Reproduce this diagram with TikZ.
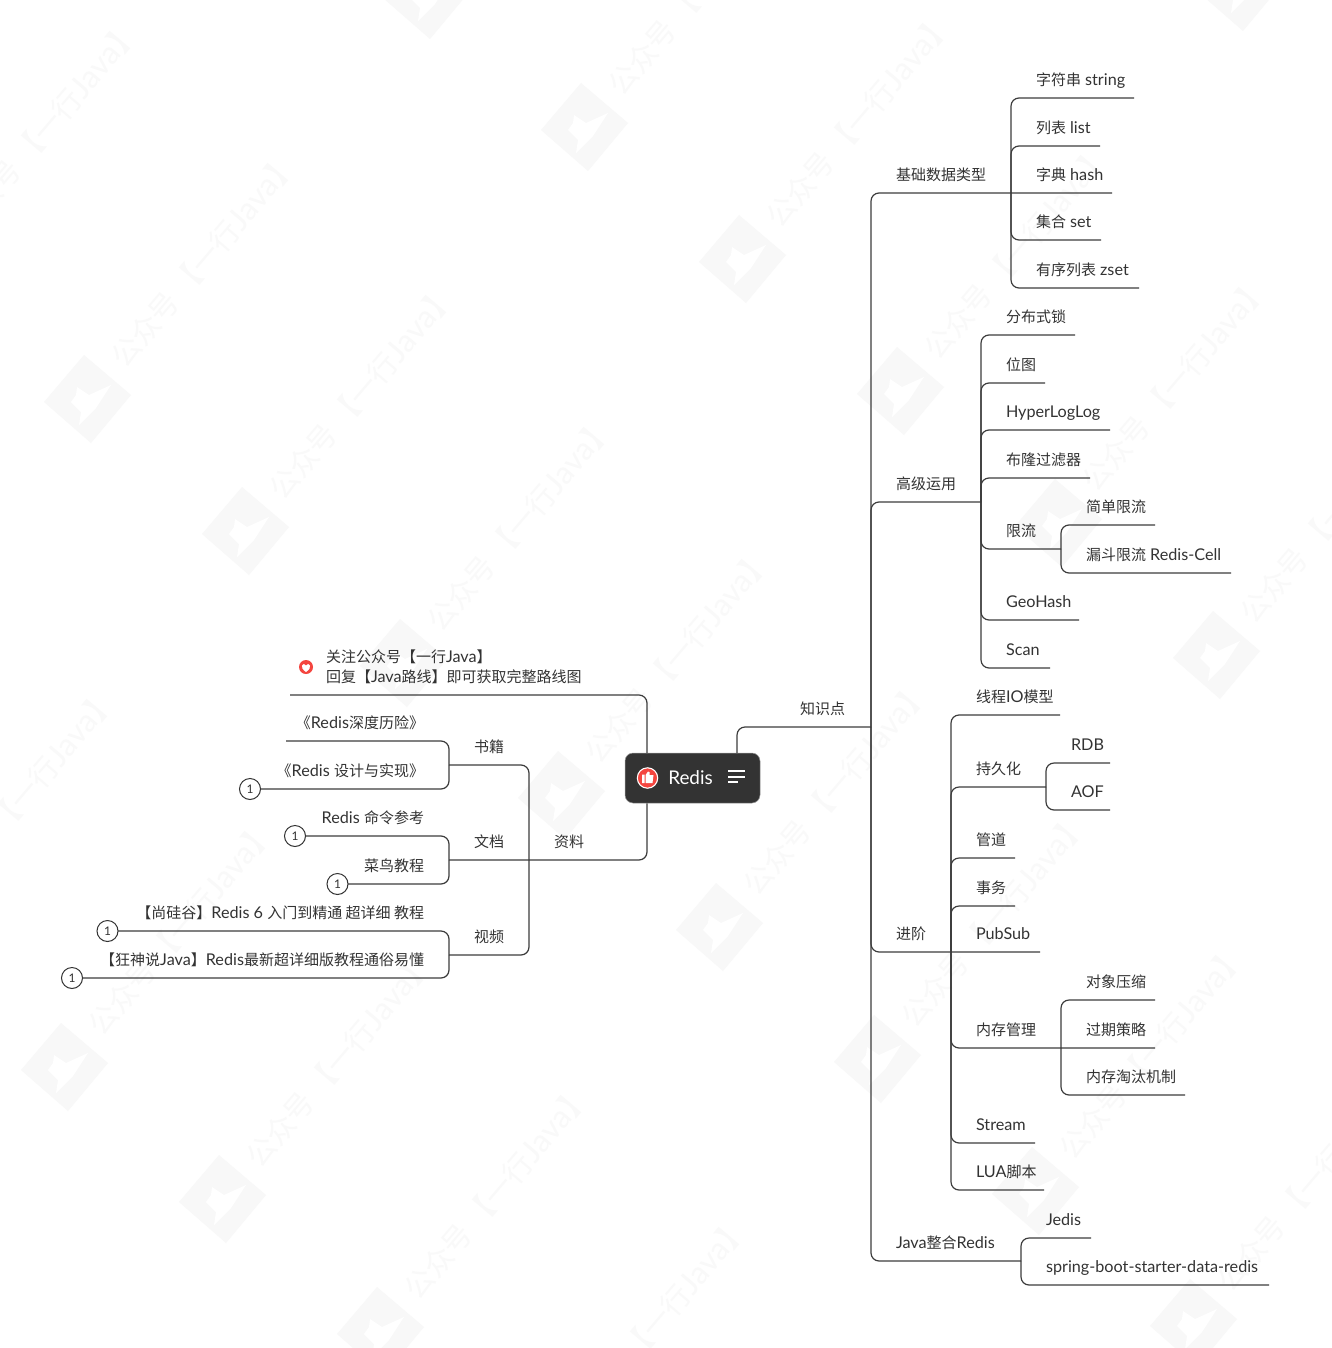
\documentclass[tikz,border=0pt]{standalone}
\usepackage{fontspec}
\setmainfont[Scale=1.08]{Lato}
\newfontfamily\cjk{Noto Sans CJK SC}
\newcommand\zh[1]{{\cjk #1}}
\definecolor{ink}{HTML}{333333}
\definecolor{wire}{HTML}{3C3C3C}
\definecolor{wm}{HTML}{F8F8F8}
\definecolor{wmtext}{HTML}{F9F9F9}
\definecolor{hot}{HTML}{F4453F}
\newcommand\labstrut{\rule[-13pt]{0pt}{26pt}}
\newcommand\low[1]{\raisebox{-0.7pt}{#1}}
% right-growing label: name, xleft, xright, yline, left pad, text
\newcommand\nr[6]{\pgfmathsetlengthmacro\lw{(#3-#2)*1pt}%
  \node[lab] (#1) at (#2,#4) {\makebox[\lw][l]{\hspace*{#5pt}\labstrut #6}};}
% left-growing label: name, xleft, xright, yline, right pad, text
\newcommand\nl[6]{\pgfmathsetlengthmacro\lw{(#3-#2)*1pt}%
  \node[lab] (#1) at (#2,#4) {\makebox[\lw][r]{\labstrut #6\hspace*{#5pt}}};}
\newcommand\lnkR[2]{\draw[conn] (#1.south east) -- (#2.south west) -- (#2.south east);}
\newcommand\lnkL[2]{\draw[conn] (#1.south west) -- (#2.south east) -- (#2.south west);}
\newcommand\lnkS[1]{\draw[draw=wire,line width=1.2pt] (#1.south west) -- ([yshift=0.06pt]#1.south) -- (#1.south east);}
\tikzset{
  lab/.style={anchor=south west,inner sep=0pt,outer sep=0pt,text=ink,font=\fontsize{15pt}{20pt}\selectfont},
  conn/.style={draw=wire,line width=1.2pt,rounded corners=8pt},
  badge/.style={circle,draw=ink,fill=white,line width=1pt,minimum size=21pt,inner sep=0pt,text=ink,font=\fontsize{11pt}{12pt}\selectfont},
  rootbox/.style={rectangle,rounded corners=8pt,fill=ink,draw=gray!80,line width=.5pt,minimum width=135pt,minimum height=50pt,inner sep=0pt},
  wmtxt/.style={rotate=49.6,inner sep=0pt,text=wmtext,font=\fontsize{29pt}{30pt}\selectfont}
}
\begin{document}
\begin{tikzpicture}[x=1pt,y=-1pt]
\useasboundingbox (0,0) rectangle (1331,1348);
\fill[white] (0,0) rectangle (1331,1348);
% watermark lattice
\begin{scope}
\clip (0,0) rectangle (1331,1348);
\foreach \i in {-6,...,10}{\foreach \j in {-4,...,5}{
  \pgfmathtruncatemacro\wx{88+\i*158+\j*497}
  \pgfmathtruncatemacro\wy{400+\i*132-\j*272}
  \pgfmathtruncatemacro\keep{(\wx>-350)&&(\wx<1400)&&(\wy>-50)&&(\wy<1700)?1:0}
  \ifnum\keep=1
    \begin{scope}[shift={(\wx,\wy)}]
      \fill[wm] (-4,-45) -- (43,-5) -- (3,43) -- (-44,2) -- cycle;
      \fill[white] (-11,-13) -- (1,-5) -- (23,-15) -- (8,8) -- (-9,25) -- (-7,12) -- (-17,2) -- (-12,-5) -- cycle;
      \node[wmtxt] (wm-\i-\j) at (116,-140) {\zh{公众号 【一行}Java\zh{】}};
    \end{scope}
  \fi
}}
\end{scope}
% root
\node[rootbox] (root) at (692.5,778) {};
\node[inner sep=0pt,text=white,font=\fontsize{17.5pt}{20pt}\selectfont] (rootlabel) at (690.5,778) {Redis};
\fill[hot,draw=white,line width=1.1pt] (647.5,778) circle (10.2);
\fill[white] (642,774.5) rectangle (644.5,783) (645.5,775) -- (648,771.5) .. controls (650,771) and (650,773) .. (649.5,775) -- (653.5,775) -- (652.5,783) -- (645.5,783) -- cycle;
\draw[white,line width=1.2pt] (728,771) -- (744.5,771) (728,777) -- (744.5,777) (728,782) -- (738,782);
% right tree
\nr{kn}{737}{871}{727}{63}{\zh{知识点}}
\draw[conn] (kn.south west |- root.north) -- (kn.south west) -- (kn.south east);
\nr{a}{871}{1011}{193}{25}{\low{\zh{基础数据类型}}}
\nr{b}{871}{981}{502}{25}{\zh{高级运用}}
\nr{c}{871}{951}{952}{25}{\zh{进阶}}
\nr{d}{871}{1021}{1261}{25}{Java\zh{整合}Redis}
\foreach \n in {a,b,c,d}{\draw[conn] (kn.south east) -- (\n.south west) -- (\n.south east);}
\nr{a1}{1011}{1134}{98}{25}{\low{\zh{字符串} string}}
\nr{a2}{1011}{1100}{146}{25}{\low{\zh{列表} list}}
\nr{a3}{1011}{1112}{193}{25}{\low{\zh{字典} hash}}
\nr{a4}{1011}{1101}{240}{25}{\low{\zh{集合} set}}
\nr{a5}{1011}{1139}{288}{25}{\low{\zh{有序列表} zset}}
\lnkR{a}{a1}\lnkR{a}{a2}\lnkS{a3}\lnkR{a}{a4}\lnkR{a}{a5}
\nr{b1}{981}{1075}{335}{25}{\zh{分布式锁}}
\nr{b2}{981}{1045}{383}{25}{\zh{位图}}
\nr{b3}{981}{1110}{430}{25}{HyperLogLog}
\nr{b4}{981}{1090}{478}{25}{\zh{布隆过滤器}}
\nr{b5}{981}{1061}{549}{25}{\zh{限流}}
\nr{b6}{981}{1079}{620}{25}{GeoHash}
\nr{b7}{981}{1050}{668}{25}{Scan}
\lnkR{b}{b1}\lnkR{b}{b2}\lnkR{b}{b3}\lnkR{b}{b4}\lnkR{b}{b5}\lnkR{b}{b6}\lnkR{b}{b7}
\nr{b51}{1061}{1155}{525}{25}{\zh{简单限流}}
\nr{b52}{1061}{1231}{573}{25}{\zh{漏斗限流} Redis-Cell}
\lnkR{b5}{b51}\lnkR{b5}{b52}
\nr{c1}{951}{1060}{715}{25}{\zh{线程}IO\zh{模型}}
\nr{c2}{951}{1046}{787}{25}{\zh{持久化}}
\nr{c3}{951}{1015}{858}{25}{\zh{管道}}
\nr{c4}{951}{1015}{906}{25}{\zh{事务}}
\nr{c5}{951}{1040}{952}{25}{PubSub}
\nr{c6}{951}{1061}{1048}{25}{\zh{内存管理}}
\nr{c7}{951}{1035}{1143}{25}{Stream}
\nr{c8}{951}{1044}{1190}{25}{LUA\zh{脚本}}
\lnkR{c}{c1}\lnkR{c}{c2}\lnkR{c}{c3}\lnkR{c}{c4}\lnkS{c5}\lnkR{c}{c6}\lnkR{c}{c7}\lnkR{c}{c8}
\nr{c21}{1046}{1110}{763}{25}{RDB}
\nr{c22}{1046}{1110}{810}{25}{AOF}
\lnkR{c2}{c21}\lnkR{c2}{c22}
\nr{c61}{1061}{1155}{1000}{25}{\zh{对象压缩}}
\nr{c62}{1061}{1155}{1048}{25}{\zh{过期策略}}
\nr{c63}{1061}{1185}{1095}{25}{\zh{内存淘汰机制}}
\lnkR{c6}{c61}\lnkS{c62}\lnkR{c6}{c63}
\nr{d1}{1021}{1091}{1238}{25}{Jedis}
\nr{d2}{1021}{1269}{1285}{25}{spring-boot-starter-data-redis}
\lnkR{d}{d1}\lnkR{d}{d2}
% left tree
\node[lab] (hn) at (290,695) {\makebox[357pt][l]{\hspace*{36pt}\labstrut\parbox[b]{300pt}{\baselineskip=20pt \zh{关注公众号【一行}Java\zh{】}\\\zh{回复【}Java\zh{路线】即可获取完整路线图}}}};
\draw[conn] (hn.south east |- root.north) -- (hn.south east) -- (hn.south west);
\fill[hot] (306,667) circle (7);
\fill[white] (306,672) .. controls (302.5,669.5) and (301.5,667.5) .. (302,665.5) .. controls (302.5,663.5) and (305,663.5) .. (306,665.5) .. controls (307,663.5) and (309.5,663.5) .. (310,665.5) .. controls (310.5,667.5) and (309.5,669.5) .. (306,672) -- cycle;
\nl{z}{529}{647}{860}{63}{\zh{资料}}
\draw[conn] (z.south east |- root.south) -- (z.south east) -- (z.south west);
\nl{l1}{449}{529}{765}{25}{\zh{书籍}}
\nl{l2}{449}{529}{860}{25}{\zh{文档}}
\nl{l3}{449}{529}{955}{25}{\zh{视频}}
\lnkL{z}{l1}\lnkS{l2}\lnkL{z}{l3}
\node[badge] (b-a) at (250,789) {1};
\node[badge] (b-b) at (295,836) {1};
\node[badge] (b-c) at (337.5,884) {1};
\node[badge] (b-d) at (107.5,931) {1};
\node[badge] (b-e) at (72,978) {1};
\nl{l11}{286}{449}{741}{25}{\zh{《}Redis\zh{深度历险》}}
\nl{l12}{260.5}{449}{789}{25}{\zh{《}Redis \zh{设计与实现》}}
\nl{l21}{305.5}{449}{836}{25}{Redis \zh{命令参考}}
\nl{l22}{348}{449}{884}{25}{\zh{菜鸟教程}}
\nl{l31}{118}{449}{931}{25}{\zh{【尚硅谷】}Redis 6 \zh{入门到精通 超详细 教程}}
\nl{l32}{82.5}{449}{978}{25}{\zh{【狂神说}Java\zh{】}Redis\zh{最新超详细版教程通俗易懂}}
\lnkL{l1}{l11}\lnkL{l1}{l12}\lnkL{l2}{l21}\lnkL{l2}{l22}\lnkL{l3}{l31}\lnkL{l3}{l32}
\end{tikzpicture}
\end{document}
